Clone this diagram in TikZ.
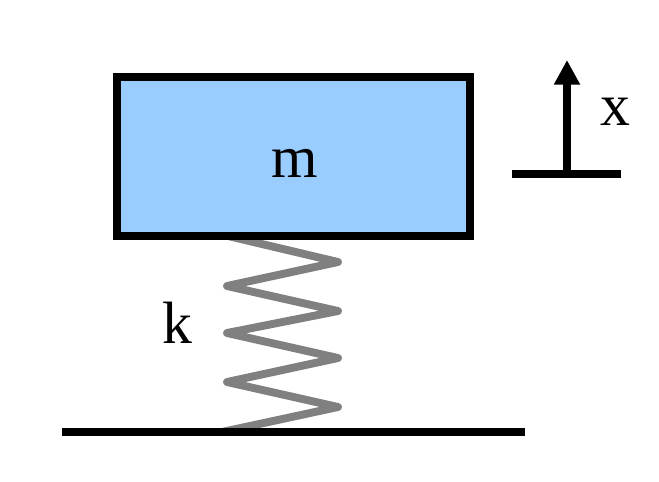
\documentclass[tikz,border=0pt]{standalone}
\usepackage{fontspec}
\setmainfont{Liberation Serif}
\usetikzlibrary{arrows.meta}
\definecolor{massblue}{HTML}{99CCFF}
\definecolor{springgray}{HTML}{808080}
\tikzset{
  label/.style={font=\fontsize{34}{34}\selectfont},
  thickline/.style={line width=4.5pt}
}
\begin{document}
\begin{tikzpicture}[x=0.02cm,y=-0.02cm]
\useasboundingbox (0,0) rectangle (659,481);
% spring
\draw[springgray,line width=4.5pt,line cap=round,line join=round]
  (228,236) -- (338,262) -- (227,286) -- (338,311) -- (227,333)
  -- (338,358) -- (227,382) -- (338,407) -- (222,432);
% mass
\node[draw,thickline,fill=massblue,minimum width=353*0.02cm,minimum height=159*0.02cm,inner sep=0pt] (mass) at (293.5,156.5) {};
\node[label] (m) at (295,163) {m};
% ground
\coordinate (gl) at (62,432);
\coordinate (gr) at (525,432);
\draw[thickline] (gl) -- (gr);
\node[label] (k) at (177,323) {k};
% displacement
\coordinate (xl) at (512,174);
\coordinate (xr) at (621,174);
\coordinate (xb) at (567,174);
\coordinate (xt) at (567,60);
\draw[thickline] (xl) -- (xr);
\draw[thickline,-{Triangle[length=14pt,width=14pt]}] (xb) -- (xt);
\node[label] (x) at (615,112) {x};
\end{tikzpicture}
\end{document}
